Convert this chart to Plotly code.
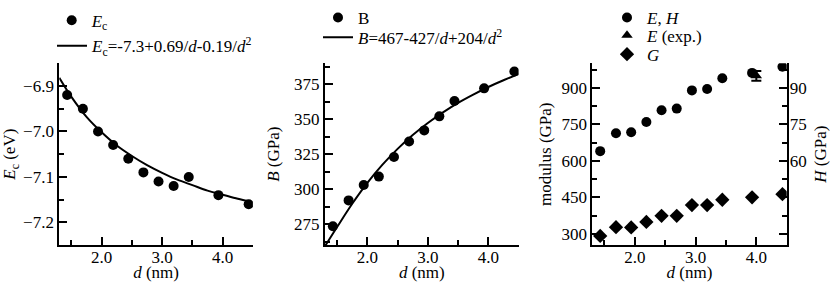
import plotly.graph_objects as go

W, H = 830, 282

# ---- data ----
d = [1.43, 1.69, 1.94, 2.19, 2.44, 2.69, 2.94, 3.19, 3.44, 3.93, 4.43]
ec = [-6.92, -6.95, -7.00, -7.03, -7.06, -7.09, -7.11, -7.12, -7.10, -7.14, -7.16]
bulk = [273.5, 292, 303, 309, 323, 334, 342, 352, 363, 372, 384]
mod_E = [640, 714, 718, 760, 808, 815, 890, 896, 940, 962, 987]
mod_G = [291, 327, 326, 349, 374, 374, 418, 418, 440, 450, 463]
d_exp = [4.0]
E_exp = [950]
E_exp_err = [20]

# fitted curves
fit_d_ec = [1.3, 1.5, 1.75, 2.0, 2.25, 2.5, 2.75, 3.0, 3.25, 3.5, 3.75, 4.0, 4.25, 4.45]
fit_ec = [-6.882, -6.924, -6.968, -7.002, -7.031, -7.054, -7.074, -7.091, -7.106,
          -7.118, -7.130, -7.139, -7.148, -7.154]
fit_d_b = [1.3, 1.5, 1.75, 2.0, 2.25, 2.5, 2.75, 3.0, 3.25, 3.5, 3.75, 4.0, 4.25, 4.5]
fit_b = [259.3, 273.0, 289.6, 304.5, 317.5, 328.8, 338.7, 347.3, 354.9, 361.7,
         367.6, 373.0, 377.8, 382.2]

# axis ranges / tick spacing
d_range = [1.3, 4.5]
ec_range = [-7.25, -6.85]
b_range = [260, 390]
m_range = [253, 1002]
h_range = [25.3, 100.2]
h_label_range = [52.5, 100.2]

FONT = "Liberation Serif, Times New Roman, serif"
FS = 17
BLACK = "black"


def fx(p):
    return p / W


def fy(p):
    return 1 - p / H


fig = go.Figure()
mk = dict(color=BLACK, size=10)

# Panel 1
fig.add_trace(go.Scatter(x=d, y=ec, mode="markers", marker=dict(symbol="circle", **mk),
                         name="<i>E</i><sub>c</sub>", xaxis="x", yaxis="y", legend="legend"))
fig.add_trace(go.Scatter(x=fit_d_ec, y=fit_ec, mode="lines",
                         line=dict(color=BLACK, width=2, shape="spline"),
                         name="<i>E</i><sub>c</sub>=-7.3+0.69/<i>d</i>-0.19/<i>d</i><sup>2</sup>",
                         xaxis="x", yaxis="y", legend="legend2"))
# Panel 2
fig.add_trace(go.Scatter(x=d, y=bulk, mode="markers", marker=dict(symbol="circle", **mk),
                         name="B", xaxis="x2", yaxis="y2", legend="legend3"))
fig.add_trace(go.Scatter(x=fit_d_b, y=fit_b, mode="lines",
                         line=dict(color=BLACK, width=2, shape="spline"),
                         name="<i>B</i>=467-427/<i>d</i>+204/<i>d</i><sup>2</sup>",
                         xaxis="x2", yaxis="y2", legend="legend4"))
# Panel 3
fig.add_trace(go.Scatter(x=d, y=mod_E, mode="markers", marker=dict(symbol="circle", **mk),
                         name="<i>E</i>, <i>H</i>", xaxis="x3", yaxis="y3", legend="legend5"))
fig.add_trace(go.Scatter(x=d_exp, y=E_exp, mode="markers",
                         marker=dict(symbol="triangle-up", **mk),
                         error_y=dict(type="data", array=E_exp_err, color=BLACK, thickness=2, width=5),
                         name="<i>E</i> (exp.)", xaxis="x3", yaxis="y3", legend="legend6"))
fig.add_trace(go.Scatter(x=d, y=mod_G, mode="markers",
                         marker=dict(symbol="diamond", color=BLACK, size=11),
                         name="<i>G</i>", xaxis="x3", yaxis="y3", legend="legend7"))

# empty helper traces so that the overlay axes (minor ticks, H scale) are drawn
for xa, ya in [("x4", "y"), ("x5", "y2"), ("x6", "y3"), ("x", "y6"), ("x2", "y7"),
               ("x3", "y8"), ("x3", "y4"), ("x3", "y9"), ("x3", "y5")]:
    fig.add_trace(go.Scatter(x=[], y=[], mode="markers", xaxis=xa, yaxis=ya,
                             showlegend=False, hoverinfo="skip"))

tfont = dict(family=FONT, size=FS, color=BLACK)
base = dict(showgrid=False, zeroline=False, tickcolor=BLACK, linecolor=BLACK, tickfont=tfont)


def major(**kw):
    dd = dict(showline=True, linewidth=2, ticks="inside", ticklen=8, tickwidth=2,
              tickmode="linear", **base)
    dd.update(kw)
    return dd


def minor_ax(**kw):
    dd = dict(showline=False, ticks="inside", ticklen=5, tickwidth=1.6,
              showticklabels=False, tickmode="linear", **base)
    dd.update(kw)
    return dd


P1 = (59.3, 252.9)
P2 = (325.0, 518.6)
P3 = (592.3, 786.7)
YD = [fy(243), fy(50)]

xtitle = dict(text="<i>d</i> (nm)", font=tfont, standoff=12)


def xmain(dom, anchor):
    return major(domain=[fx(dom[0]), fx(dom[1])], anchor=anchor, range=d_range,
                 tick0=0, dtick=1, tickformat=".1f", ticklabelstandoff=-5, title=xtitle)


leg_common = dict(font=tfont, bgcolor="rgba(0,0,0,0)", borderwidth=0, itemwidth=30,
                  xanchor="left", yanchor="middle")


def leg(xm, ym):
    # xm, ym: pixel position of the legend symbol
    return dict(x=fx(xm - 20), y=fy(ym - 7), **leg_common)


fig.update_layout(
    template="none",
    width=W, height=H,
    margin=dict(l=0, r=0, t=0, b=0),
    paper_bgcolor="white", plot_bgcolor="rgba(0,0,0,0)",
    font=dict(family=FONT, size=FS, color=BLACK),
    showlegend=True,
    xaxis=xmain(P1, "y"),
    xaxis2=xmain(P2, "y2"),
    xaxis3=xmain(P3, "y3"),
    xaxis4=minor_ax(overlaying="x", anchor="y", range=d_range, tick0=1.5, dtick=1),
    xaxis5=minor_ax(overlaying="x2", anchor="y2", range=d_range, tick0=1.5, dtick=1),
    xaxis6=minor_ax(overlaying="x3", anchor="y3", range=d_range, tick0=1.5, dtick=1),
    yaxis=major(domain=YD, anchor="x", range=ec_range, tick0=0, dtick=0.1, tickformat=".1f",
                title=dict(text="<i>E</i><sub>c</sub> (eV)", font=tfont, standoff=10)),
    yaxis2=major(domain=YD, anchor="x2", range=b_range, tick0=0, dtick=25,
                 title=dict(text="<i>B</i> (GPa)", font=tfont, standoff=10)),
    yaxis3=major(domain=YD, anchor="x3", range=m_range, tick0=0, dtick=150,
                 title=dict(text="modulus (GPa)", font=tfont, standoff=5)),
    yaxis6=minor_ax(overlaying="y", anchor="x", range=ec_range, tick0=-6.95, dtick=0.1),
    yaxis7=minor_ax(overlaying="y2", anchor="x2", range=b_range, tick0=287.5, dtick=25),
    yaxis8=minor_ax(overlaying="y3", anchor="x3", range=m_range, tick0=375, dtick=150),
    # right-hand H scale: line + major ticks, minor ticks, and labels (60-90)
    yaxis4=major(overlaying="y3", anchor="x3", side="right", range=h_range, tick0=0, dtick=15,
                 showticklabels=False,
                 title=dict(text="<i>H</i> (GPa)", font=tfont, standoff=30)),
    yaxis9=minor_ax(overlaying="y3", anchor="x3", side="right", range=h_range, tick0=37.5, dtick=15),
    yaxis5=dict(domain=[fy(243 - (h_label_range[0] - h_range[0]) / (h_range[1] - h_range[0]) * 193), fy(50)],
                anchor="x3", side="right", range=h_label_range, tickmode="linear", tick0=0, dtick=15,
                ticks="", showline=False, showgrid=False, zeroline=False, tickfont=tfont,
                ticklabelstandoff=2),
    legend=leg(71.7, 12),
    legend2=leg(72, 39),
    legend3=leg(338, 9),
    legend4=leg(338, 30),
    legend5=leg(627, 9),
    legend6=leg(627, 28),
    legend7=leg(627, 48),
)

fig.write_html("out.html", config={"displayModeBar": False},
               post_script="document.body.style.margin='0';")
